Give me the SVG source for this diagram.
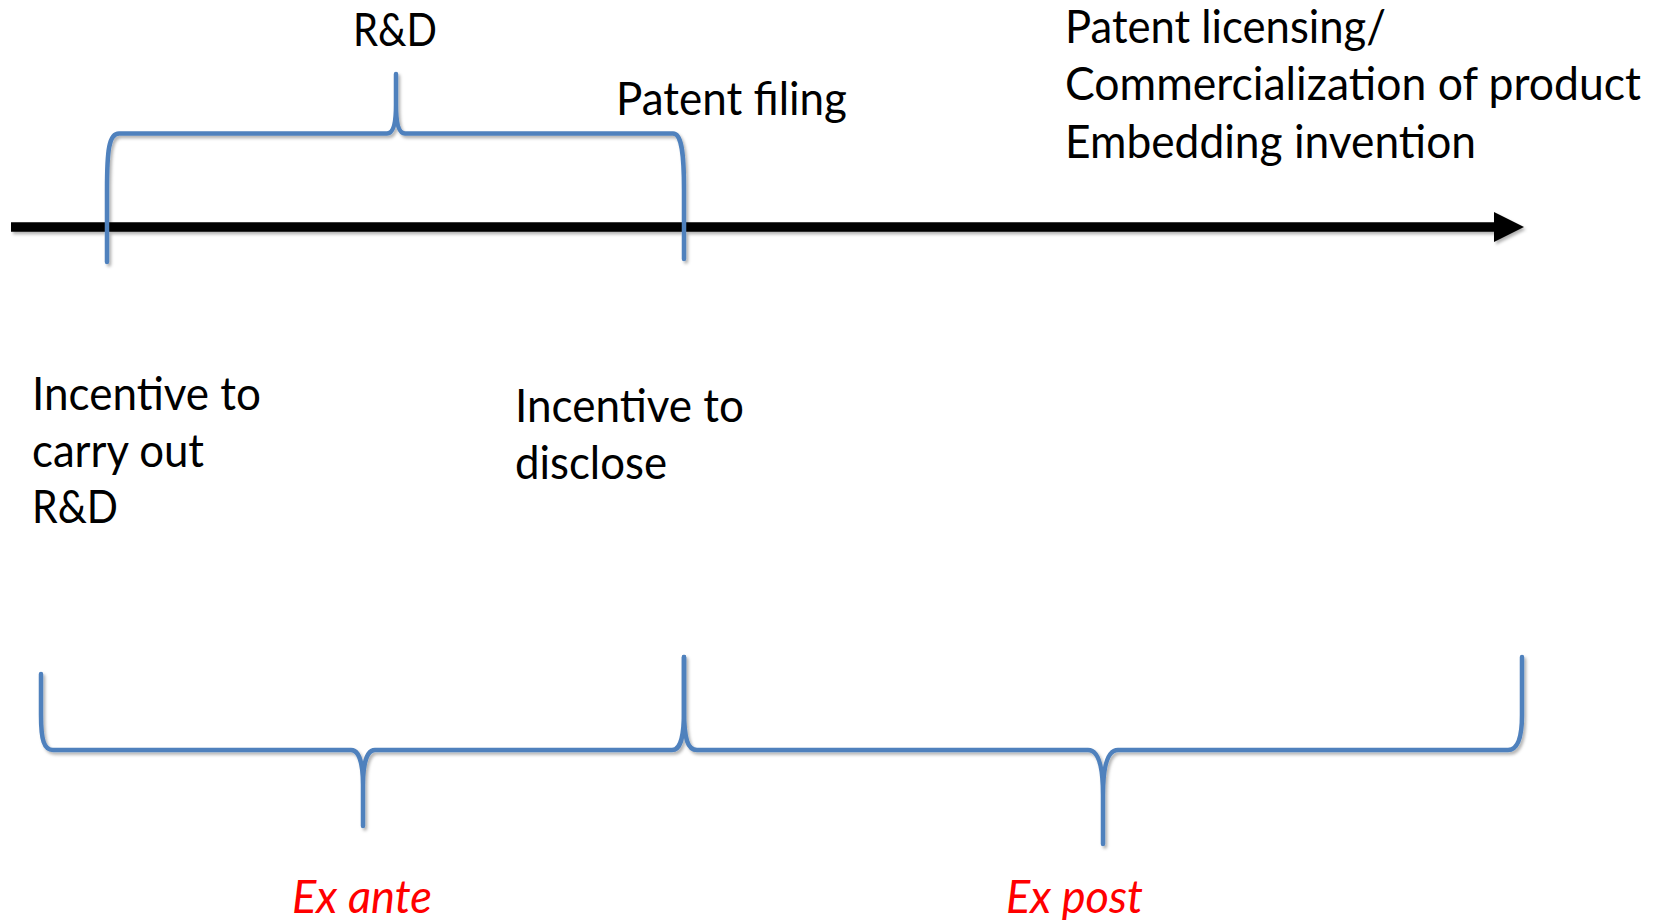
<svg xmlns="http://www.w3.org/2000/svg" width="1661" height="920" viewBox="0 0 1661 920">
<defs>
<style>
.t{font-family:Lato,"Liberation Sans",sans-serif;font-size:46px;fill:#000}
.r{font-family:Lato,"Liberation Sans",sans-serif;font-size:46px;font-style:italic;fill:#ff0000}
.br{fill:none;stroke:#4F81BD;stroke-width:4.5;stroke-linejoin:round;stroke-linecap:round}
</style>
<filter id="sh" x="-5%" y="-20%" width="110%" height="140%">
<feDropShadow dx="2" dy="2.5" stdDeviation="1.5" flood-color="#000" flood-opacity="0.3"/>
</filter>
</defs>
<rect width="1661" height="920" fill="#fff"/>
<g id="connectors" filter="url(#sh)">
<g id="timeline">
<line x1="11" y1="227" x2="1496" y2="227" stroke="#000" stroke-width="9.5"/>
<polygon points="1494,212 1524,227 1494,242" fill="#000"/>
</g>
<path id="brace-rd" class="br" d="M107 262 L107 190 C107 150 109 133.5 119 133.5 L387 133.5 C393 133.5 396 125 396 105 L396 74 L396 105 C396 125 399 133.5 405 133.5 L673 133.5 C681 133.5 684 150 684 190 L684 259"/>
<path id="brace-exante" class="br" d="M41 674 L41 715 C41 740 44 750 53 750 L351 750 C358 750 363 760 363 785 L363 826 L363 785 C363 760 368 750 375 750 L672 750 C680 750 684 740 684 710 L684 657"/>
<path id="brace-expost" class="br" d="M684 657 L684 710 C684 740 688 750 697 750 L1088 750 C1097 750 1103 762 1103 795 L1103 844 L1103 795 C1103 762 1109 750 1118 750 L1508 750 C1517 750 1522 740 1522 715 L1522 657"/>
</g>
<g id="node-rd"><text class="t" x="353" y="46" textLength="84" lengthAdjust="spacingAndGlyphs">R&amp;D</text></g>
<g id="node-filing"><text class="t" x="616" y="115" textLength="231" lengthAdjust="spacingAndGlyphs">Patent filing</text></g>
<g id="node-licensing">
<text class="t" x="1065" y="43" textLength="321" lengthAdjust="spacingAndGlyphs">Patent licensing/</text>
<text class="t" x="1065" y="100" textLength="576" lengthAdjust="spacingAndGlyphs">Commercialization of product</text>
<text class="t" x="1065" y="158" textLength="411" lengthAdjust="spacingAndGlyphs">Embedding invention</text>
</g>
<g id="node-incentive-rd">
<text class="t" x="32" y="410" textLength="229" lengthAdjust="spacingAndGlyphs">Incentive to</text>
<text class="t" x="32" y="467" textLength="172" lengthAdjust="spacingAndGlyphs">carry out</text>
<text class="t" x="32" y="523" textLength="86" lengthAdjust="spacingAndGlyphs">R&amp;D</text>
</g>
<g id="node-incentive-disclose">
<text class="t" x="515" y="422" textLength="229" lengthAdjust="spacingAndGlyphs">Incentive to</text>
<text class="t" x="515" y="479" textLength="152" lengthAdjust="spacingAndGlyphs">disclose</text>
</g>
<g id="node-exante"><text class="r" x="292" y="913" textLength="140" lengthAdjust="spacingAndGlyphs">Ex ante</text></g>
<g id="node-expost"><text class="r" x="1006" y="913" textLength="137" lengthAdjust="spacingAndGlyphs">Ex post</text></g>
</svg>
